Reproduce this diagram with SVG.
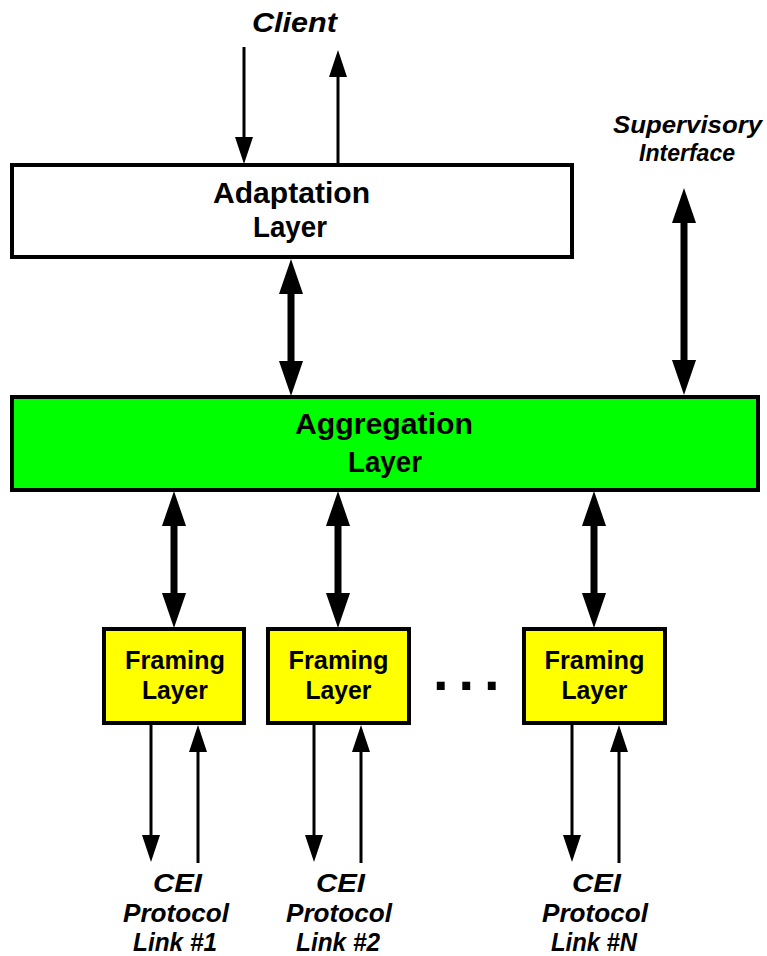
<svg xmlns="http://www.w3.org/2000/svg" width="767" height="956" viewBox="0 0 767 956">
<style>
.box{stroke:#000;stroke-width:4}
.t{font-family:"Liberation Sans",Arial,sans-serif;font-weight:bold;text-anchor:middle;fill:#000}
.i{font-style:italic}
.thin{stroke:#000;stroke-width:3;fill:none}
.thick{stroke:#000;stroke-width:7;fill:none}
</style>
<defs>
<marker id="ah" markerUnits="userSpaceOnUse" viewBox="0 0 27 18" markerWidth="27" markerHeight="18" refX="7" refY="9" orient="auto-start-reverse"><path d="M0,0 L27,9 L0,18 z" fill="#000"/></marker>
<marker id="AH" markerUnits="userSpaceOnUse" viewBox="0 0 35 24" markerWidth="35" markerHeight="24" refX="10" refY="12" orient="auto-start-reverse"><path d="M0,0 L35,12 L0,24 z" fill="#000"/></marker>
</defs>
<rect width="767" height="956" fill="#fff"/>
<g id="connectors">
<line class="thin" x1="244" y1="47" x2="244" y2="144" marker-end="url(#ah)"/>
<line class="thin" x1="338" y1="165" x2="338" y2="70" marker-end="url(#ah)"/>
<line class="thick" x1="291" y1="284" x2="291" y2="371" marker-start="url(#AH)" marker-end="url(#AH)"/>
<line class="thick" x1="684" y1="213" x2="684" y2="370" marker-start="url(#AH)" marker-end="url(#AH)"/>
<line class="thick" x1="174" y1="516" x2="174" y2="603" marker-start="url(#AH)" marker-end="url(#AH)"/>
<line class="thick" x1="338" y1="516" x2="338" y2="603" marker-start="url(#AH)" marker-end="url(#AH)"/>
<line class="thick" x1="594" y1="516" x2="594" y2="603" marker-start="url(#AH)" marker-end="url(#AH)"/>
<line class="thin" x1="151" y1="724" x2="151" y2="842" marker-end="url(#ah)"/>
<line class="thin" x1="198" y1="863" x2="198" y2="745" marker-end="url(#ah)"/>
<line class="thin" x1="314" y1="724" x2="314" y2="842" marker-end="url(#ah)"/>
<line class="thin" x1="361" y1="863" x2="361" y2="745" marker-end="url(#ah)"/>
<line class="thin" x1="572" y1="724" x2="572" y2="842" marker-end="url(#ah)"/>
<line class="thin" x1="619" y1="863" x2="619" y2="745" marker-end="url(#ah)"/>
</g>
<g id="client"><text class="t i" x="294.5" y="32" font-size="28" textLength="85" lengthAdjust="spacingAndGlyphs">Client</text></g>
<g id="supervisory">
<text class="t i" x="687.5" y="133" font-size="24" textLength="149" lengthAdjust="spacingAndGlyphs">Supervisory</text>
<text class="t i" x="687" y="161" font-size="24" textLength="96" lengthAdjust="spacingAndGlyphs">Interface</text>
</g>
<g id="adaptation">
<rect class="box" x="12" y="165" width="560" height="92" fill="#fff"/>
<text class="t" x="291.5" y="203" font-size="30" textLength="157" lengthAdjust="spacingAndGlyphs">Adaptation</text>
<text class="t" x="290" y="237" font-size="30" textLength="74" lengthAdjust="spacingAndGlyphs">Layer</text>
</g>
<g id="aggregation">
<rect class="box" x="12" y="397" width="746" height="93" fill="#00ff00"/>
<text class="t" x="384" y="434" font-size="30" textLength="178" lengthAdjust="spacingAndGlyphs">Aggregation</text>
<text class="t" x="385" y="472" font-size="30" textLength="74" lengthAdjust="spacingAndGlyphs">Layer</text>
</g>
<g id="framing1">
<rect class="box" x="104" y="629" width="140" height="94" fill="#ffff00"/>
<text class="t" x="175" y="669" font-size="25" textLength="100" lengthAdjust="spacingAndGlyphs">Framing</text>
<text class="t" x="175" y="699" font-size="25" textLength="66" lengthAdjust="spacingAndGlyphs">Layer</text>
</g>
<g id="framing2">
<rect class="box" x="268" y="629" width="141" height="94" fill="#ffff00"/>
<text class="t" x="338.5" y="669" font-size="25" textLength="100" lengthAdjust="spacingAndGlyphs">Framing</text>
<text class="t" x="338.5" y="699" font-size="25" textLength="66" lengthAdjust="spacingAndGlyphs">Layer</text>
</g>
<g id="framingN">
<rect class="box" x="524" y="629" width="141" height="94" fill="#ffff00"/>
<text class="t" x="594.5" y="669" font-size="25" textLength="100" lengthAdjust="spacingAndGlyphs">Framing</text>
<text class="t" x="594.5" y="699" font-size="25" textLength="66" lengthAdjust="spacingAndGlyphs">Layer</text>
</g>
<g id="ellipsis"><text x="433" y="690" font-family="Liberation Sans,Arial,sans-serif" font-weight="bold" font-size="56" letter-spacing="10">...</text></g>
<g id="link1">
<text class="t i" x="177.5" y="892" font-size="26" textLength="49" lengthAdjust="spacingAndGlyphs">CEI</text>
<text class="t i" x="176" y="922" font-size="26" textLength="106" lengthAdjust="spacingAndGlyphs">Protocol</text>
<text class="t i" x="175" y="951" font-size="26" textLength="84" lengthAdjust="spacingAndGlyphs">Link #1</text>
</g>
<g id="link2">
<text class="t i" x="340.5" y="892" font-size="26" textLength="49" lengthAdjust="spacingAndGlyphs">CEI</text>
<text class="t i" x="339" y="922" font-size="26" textLength="106" lengthAdjust="spacingAndGlyphs">Protocol</text>
<text class="t i" x="338" y="951" font-size="26" textLength="84" lengthAdjust="spacingAndGlyphs">Link #2</text>
</g>
<g id="linkN">
<text class="t i" x="596.5" y="892" font-size="26" textLength="49" lengthAdjust="spacingAndGlyphs">CEI</text>
<text class="t i" x="595" y="922" font-size="26" textLength="106" lengthAdjust="spacingAndGlyphs">Protocol</text>
<text class="t i" x="594" y="951" font-size="26" textLength="86" lengthAdjust="spacingAndGlyphs">Link #N</text>
</g>
</svg>
